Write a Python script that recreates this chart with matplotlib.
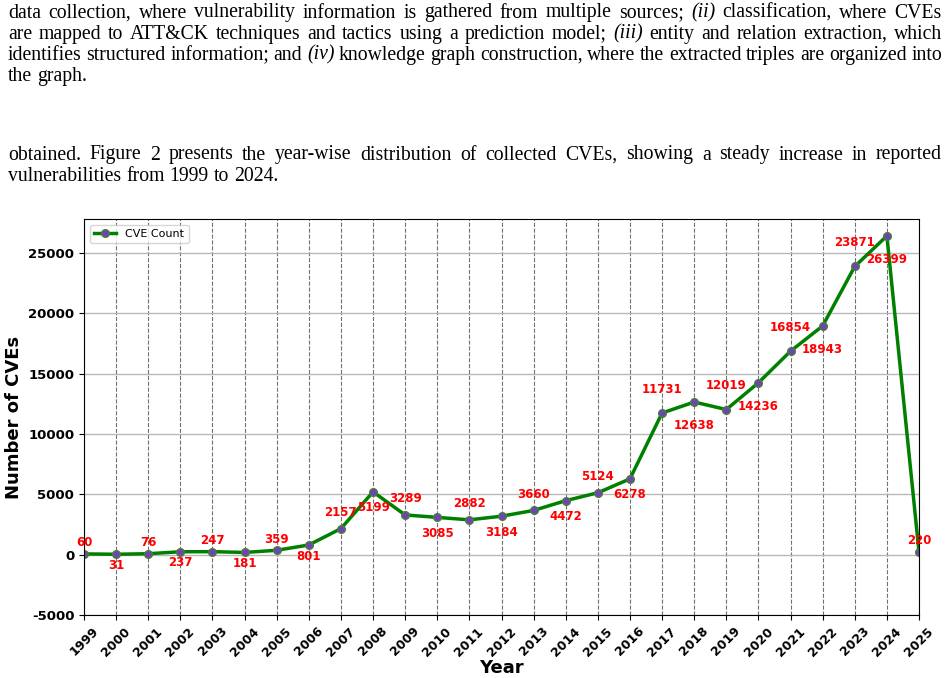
import matplotlib
matplotlib.use("Agg")
import matplotlib.pyplot as plt

# year-wise CVE counts
years = list(range(1999, 2026))
counts = [60, 31, 76, 237, 247, 181, 359, 801, 2157, 5199, 3289, 3085, 2882,
          3184, 3660, 4472, 5124, 6278, 11731, 12638, 12019, 14236, 16854,
          18943, 23871, 26399, 220]
yticks = [-5000, 0, 5000, 10000, 15000, 20000, 25000]

# paper text around the figure, "_" marks an italic word
para1 = [
    "data collection, where vulnerability information is gathered from multiple sources; _(ii) classification, where CVEs",
    "are mapped to ATT&CK techniques and tactics using a prediction model; _(iii) entity and relation extraction, which",
    "identifies structured information; and _(iv) knowledge graph construction, where the extracted triples are organized into",
    "the graph.",
]
para2 = [
    "obtained.  Figure 2 presents the year-wise distribution of collected CVEs, showing a steady increase in reported",
    "vulnerabilities from 1999 to 2024.",
]

W, H = 949, 678
fig = plt.figure(figsize=(W / 100, H / 100), dpi=100)

line_texts = []


def add_line(line, y_px, justify, size=14.2):
    texts = []
    for w in line.split():
        style = "normal"
        if w.startswith("_"):
            w = w[1:]
            style = "italic"
        t = fig.text(0, 1 - y_px / H, w, fontsize=size, family="Liberation Serif",
                     style=style, va="baseline", ha="left")
        texts.append(t)
    line_texts.append((texts, justify, size))


for i, line in enumerate(para1):
    add_line(line, 17.5 + i * 21.2, i < len(para1) - 1)
for i, line in enumerate(para2):
    add_line(line, 159.5 + i * 21.2, i < len(para2) - 1)

ax = fig.add_axes([84 / W, 1 - 615 / H, (919 - 84) / W, (615 - 219) / H])

ax.plot(years, counts, color="green", linewidth=2.5, marker="o", markersize=5.5,
        markerfacecolor="#6a45b8", markeredgecolor="#4f7a3a", markeredgewidth=1,
        label="CVE Count")

for i, (yr, c) in enumerate(zip(years, counts)):
    if c < 1000:
        off = 8
    elif c < 10000:
        off = 11.5
    else:
        off = 17
    dy = off if i % 2 == 0 else -off
    ax.annotate(str(c), (yr, c), xytext=(0, dy), textcoords="offset points",
                ha="center", va="center", color="red", fontsize=8.5,
                fontweight="bold", annotation_clip=False)

ax.set_xlim(1999, 2025)
ax.set_ylim(-5000, 27800)
ax.set_xticks(years)
ax.set_xticklabels([str(y) for y in years], rotation=45, fontweight="bold",
                   fontsize=9)
ax.set_yticks(yticks)
ax.set_yticklabels([str(v) for v in yticks], fontweight="bold", fontsize=9.5)
ax.yaxis.grid(True, color="#b8b8b8", linewidth=1)
ax.xaxis.grid(True, color="#707070", linestyle="--", linewidth=0.8)
ax.set_axisbelow(True)
ax.set_xlabel("Year", fontsize=13, fontweight="bold", labelpad=0)
ax.set_ylabel("Number of CVEs", fontsize=13, fontweight="bold", labelpad=4)
ax.legend(loc="upper left", fontsize=8)

# justify the paper lines once real text sizes are known
fig.canvas.draw()
left, right = 8, 942
for texts, justify, size in line_texts:
    widths = [t.get_window_extent().width for t in texts]
    if justify and len(texts) > 1:
        gap = (right - left - sum(widths)) / (len(texts) - 1)
    else:
        gap = size * 0.25 * 100 / 72
    x = left
    for t, wd in zip(texts, widths):
        t.set_x(x / W)
        x += wd + gap

fig.savefig("out.png", dpi=100)
